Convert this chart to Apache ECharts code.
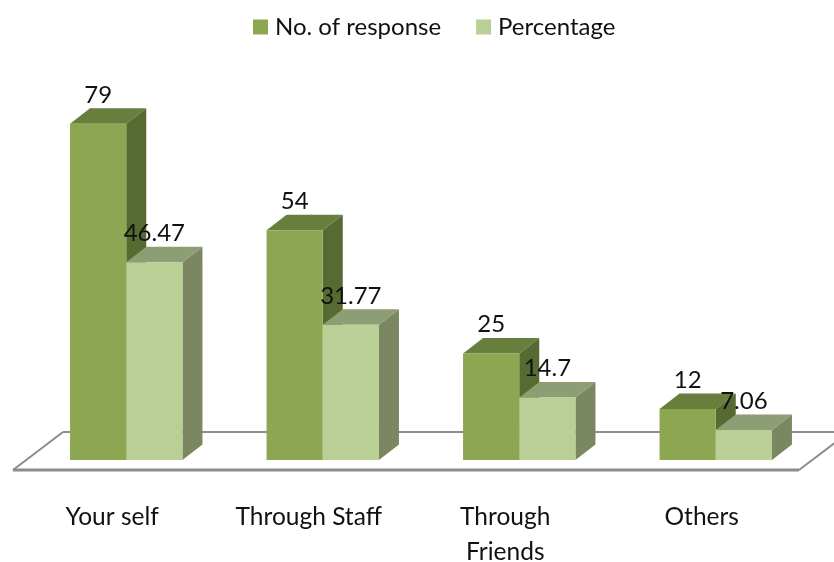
<!DOCTYPE html>
<html><head><meta charset="utf-8">
<style>html,body{margin:0;padding:0;background:#fff}#c{width:834px;height:562px}</style>
<script src="https://cdn.jsdelivr.net/npm/echarts@6/dist/echarts.min.js"></script>
</head><body><div id="c"></div>
<script>
const categories = ['Your self', 'Through Staff', 'Through\nFriends', 'Others'];
const responses = [79, 54, 25, 12];
const percentages = [46.47, 31.77, 14.7, 7.06];
const responseLabels = ['79', '54', '25', '12'];
const percentageLabels = ['46.47', '31.77', '14.7', '7.06'];
const FONT = 'Lato';
const FS = 24.5;
const DX = 20, DY = 15.5, SHIFT = 14, BARW = 0.286;

function bar3d(colors, side, labels) {
  return function (params, api) {
    const i = api.value(0);
    const top = api.coord([i, api.value(1)]);
    const base = api.coord([i, 0]);
    const w = api.size([1, 0])[0] * BARW;
    const c = top[0] + SHIFT;
    const x0 = side === 0 ? c - w : c;
    const x1 = x0 + w;
    const yt = top[1], yb = base[1];
    return { type: 'group', children: [
      { type: 'polygon', shape: { points: [[x1, yb], [x1 + DX, yb - DY], [x1 + DX, yt - DY], [x1, yt]] }, style: { fill: colors.right } },
      { type: 'polygon', shape: { points: [[x0, yt], [x0 + DX, yt - DY], [x1 + DX, yt - DY], [x1, yt]] }, style: { fill: colors.top } },
      { type: 'rect', shape: { x: x0, y: yt, width: w, height: yb - yt }, style: { fill: colors.front } },
      { type: 'text', z2: 50, style: { text: labels[i], x: (x0 + x1) / 2, y: yt - 29, align: 'center', verticalAlign: 'middle', font: '24px ' + FONT, fill: '#111' } }
    ]};
  };
}

function floor(params) {
  const g = params.coordSys;
  const y = g.y + g.height;
  const front = y + 10, back = y - 28;
  const l = g.x - 1, r = g.x + g.width - 1;
  const skew = 50;
  return { type: 'group', children: [
    { type: 'polyline', shape: { points: [[l + skew, back], [r + skew + 34, back]] }, style: { stroke: '#8c8c8c', lineWidth: 2, fill: 'none' } },
    { type: 'polyline', shape: { points: [[l, front], [l + skew, back]] }, style: { stroke: '#8c8c8c', lineWidth: 2, fill: 'none' } },
    { type: 'polyline', shape: { points: [[r, front], [r + skew, back]] }, style: { stroke: '#8c8c8c', lineWidth: 2, fill: 'none' } },
    { type: 'polyline', shape: { points: [[l, front], [r, front]] }, style: { stroke: '#8c8c8c', lineWidth: 3, fill: 'none' } }
  ]};
}

const chart = echarts.init(document.getElementById('c'), null, { renderer: 'canvas' });
chart.setOption({
  animation: false,
  backgroundColor: '#fff',
  textStyle: { fontFamily: FONT },
  legend: {
    data: ['No. of response', 'Percentage'],
    top: 10, left: 248,
    icon: 'rect', itemWidth: 15, itemHeight: 15, itemGap: 35,
    textStyle: { fontFamily: FONT, fontSize: 24, color: '#111', padding: [0, 0, 0, 2] }
  },
  grid: { left: 14, width: 786, top: 77, height: 383, outerBoundsMode: 'none' },
  xAxis: {
    type: 'category', data: categories,
    axisLine: { show: false }, axisTick: { show: false },
    axisLabel: { interval: 0, margin: 40, fontFamily: FONT, fontSize: FS, lineHeight: 35, color: '#111' }
  },
  yAxis: { type: 'value', min: 0, max: 90, show: false, splitLine: { show: false } },
  series: [
    { name: 'floor', type: 'custom', silent: true, data: [[0, 0]], encode: { x: 0, y: 1 }, renderItem: floor, z: 1 },
    { name: 'No. of response', type: 'custom', z: 2,
      itemStyle: { color: '#8ca651' }, encode: { x: 0, y: 1 },
      data: responses.map((v, i) => [i, v]),
      renderItem: bar3d({ front: '#8ca651', top: '#677e3d', right: '#566a32' }, 0, responseLabels) },
    { name: 'Percentage', type: 'custom', z: 3,
      itemStyle: { color: '#b9cf95' }, encode: { x: 0, y: 1 },
      data: percentages.map((v, i) => [i, v]),
      renderItem: bar3d({ front: '#b9cf95', top: '#8e9e74', right: '#7a8760' }, 1, percentageLabels) }
  ]
});
</script></body></html>
